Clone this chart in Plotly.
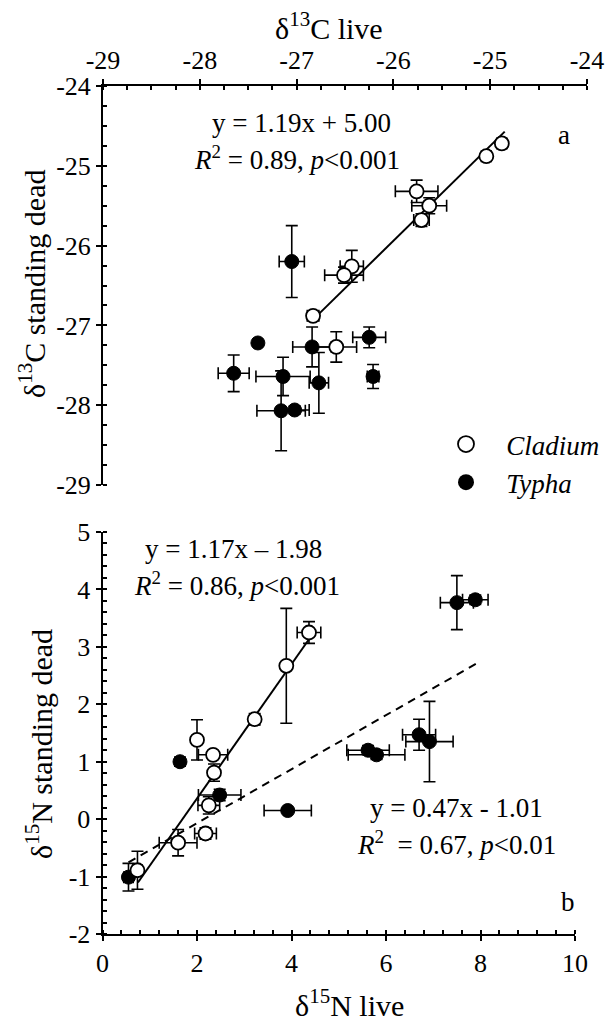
import plotly.graph_objects as go

W, H = 607, 1023

# ---------------- Panel a: d13C ----------------
c13_cladium_live = [-24.88, -25.04, -25.76, -25.63, -25.71, -26.43, -26.51, -26.83, -26.59]
c13_cladium_dead = [-24.72, -24.88, -25.32, -25.50, -25.68, -26.26, -26.37, -26.88, -27.27]
c13_cladium_xerr = [0.05, 0.05, 0.22, 0.18, 0.08, 0.12, 0.20, 0.06, 0.21]
c13_cladium_yerr = [0.05, 0.05, 0.14, 0.10, 0.08, 0.20, 0.10, 0.05, 0.19]

c13_typha_live = [-27.05, -27.40, -26.84, -26.25, -27.65, -27.14, -26.77, -26.21, -27.16, -27.02]
c13_typha_dead = [-26.20, -27.22, -27.27, -27.15, -27.60, -27.64, -27.72, -27.64, -28.07, -28.06]
c13_typha_xerr = [0.13, 0.00, 0.20, 0.17, 0.16, 0.28, 0.10, 0.06, 0.25, 0.15]
c13_typha_yerr = [0.45, 0.00, 0.25, 0.13, 0.23, 0.24, 0.38, 0.15, 0.50, 0.05]

c13_fit = dict(slope=1.19, intercept=5.00, xmin=-26.83, xmax=-24.85)

c13_ticks = [-29, -28, -27, -26, -25, -24]
c13_ticklabels = ["-29", "-28", "-27", "-26", "-25", "-24"]

# ---------------- Panel b: d15N ----------------
n15_cladium_live = [4.37, 3.89, 3.22, 2.00, 2.34, 2.36, 2.25, 2.18, 1.60, 0.74]
n15_cladium_dead = [3.25, 2.67, 1.74, 1.38, 1.12, 0.81, 0.24, -0.25, -0.41, -0.89]
n15_cladium_xerr = [0.25, 0.05, 0.10, 0.05, 0.31, 0.05, 0.23, 0.23, 0.40, 0.10]
n15_cladium_yerr = [0.19, 1.00, 0.10, 0.35, 0.05, 0.15, 0.15, 0.10, 0.23, 0.33]

n15_typha_live = [0.55, 1.64, 2.48, 3.92, 5.62, 5.80, 6.70, 6.92, 7.50, 7.89]
n15_typha_dead = [-1.01, 1.00, 0.42, 0.15, 1.20, 1.12, 1.47, 1.35, 3.77, 3.82]
n15_typha_xerr = [0.10, 0.05, 0.45, 0.50, 0.45, 0.60, 0.35, 0.50, 0.35, 0.27]
n15_typha_yerr = [0.24, 0.08, 0.10, 0.03, 0.08, 0.08, 0.27, 0.70, 0.47, 0.08]

n15_cladium_fit = dict(slope=1.17, intercept=-1.98, xmin=0.75, xmax=4.40)
n15_typha_fit = dict(slope=0.47, intercept=-1.01, xmin=0.55, xmax=7.90)

n15_xticks = [0, 2, 4, 6, 8, 10]
n15_xticklabels = ["0", "2", "4", "6", "8", "10"]
n15_yticks = [-2, -1, 0, 1, 2, 3, 4, 5]
n15_yticklabels = ["-2", "-1", "0", "1", "2", "3", "4", "5"]

FONT = "Liberation Serif, Times New Roman, serif"


def px_x(p):
    return p / W


def px_y(p):
    return 1 - p / H


fig = go.Figure()


def err(arr):
    return dict(type="data", array=arr, visible=True, color="black", thickness=1.6, width=6)


def fit_line(fit, xa, ya, dash):
    xs = [fit["xmin"], fit["xmax"]]
    ys = [fit["slope"] * v + fit["intercept"] for v in xs]
    return go.Scatter(x=xs, y=ys, mode="lines", xaxis=xa, yaxis=ya,
                      line=dict(color="black", width=2, dash=dash), showlegend=False,
                      hoverinfo="skip")


open_marker = dict(symbol="circle", size=14, color="white", line=dict(color="black", width=1.8))
fill_marker = dict(symbol="circle", size=14, color="black", line=dict(color="black", width=1))

# panel a
fig.add_trace(fit_line(c13_fit, "x", "y", "solid"))
fig.add_trace(go.Scatter(x=c13_typha_live, y=c13_typha_dead, mode="markers", name="<i>Typha</i>",
                         xaxis="x", yaxis="y", marker=fill_marker,
                         error_x=err(c13_typha_xerr), error_y=err(c13_typha_yerr),
                         showlegend=False))
fig.add_trace(go.Scatter(x=c13_cladium_live, y=c13_cladium_dead, mode="markers", name="<i>Cladium</i>",
                         xaxis="x", yaxis="y", marker=open_marker,
                         error_x=err(c13_cladium_xerr), error_y=err(c13_cladium_yerr),
                         showlegend=False))
# panel b
fig.add_trace(fit_line(n15_typha_fit, "x2", "y2", "8px,6px"))
fig.add_trace(fit_line(n15_cladium_fit, "x2", "y2", "solid"))
fig.add_trace(go.Scatter(x=n15_typha_live, y=n15_typha_dead, mode="markers", name="<i>Typha</i>",
                         xaxis="x2", yaxis="y2", marker=fill_marker,
                         error_x=err(n15_typha_xerr), error_y=err(n15_typha_yerr),
                         showlegend=False))
fig.add_trace(go.Scatter(x=n15_cladium_live, y=n15_cladium_dead, mode="markers", name="<i>Cladium</i>",
                         xaxis="x2", yaxis="y2", marker=open_marker,
                         error_x=err(n15_cladium_xerr), error_y=err(n15_cladium_yerr),
                         showlegend=False))

# legend entries
NB = "\u00a0\u00a0\u00a0"
legend_names = [NB + "<i>Cladium</i>", NB + "<i>Typha</i>"]
fig.add_trace(go.Scatter(x=[None], y=[None], mode="markers", name=legend_names[0],
                         marker=dict(symbol="circle", size=20, color="white",
                                     line=dict(color="black", width=1.8))))
fig.add_trace(go.Scatter(x=[None], y=[None], mode="markers", name=legend_names[1],
                         marker=dict(symbol="circle", size=21, color="black")))

tickfont = dict(family=FONT, size=26, color="black")
common = dict(showline=True, linecolor="black", linewidth=2, ticks="outside", ticklen=5,
              tickwidth=2, tickcolor="black", tickfont=tickfont, showgrid=False, zeroline=False,
              fixedrange=True, automargin=False, tickmode="array")

minor_style = dict(ticks="inside", ticklen=4, tickwidth=1.5, tickcolor="black", showgrid=False)

# overlay axes that draw the inner half of the major ticks (crossing ticks)
inner = dict(showline=False, ticks="inside", ticklen=5, tickwidth=2, tickcolor="black",
             showticklabels=False, showgrid=False, zeroline=False, fixedrange=True,
             automargin=False, tickmode="array")

fig.update_layout(
    template="none",
    width=W, height=H, margin=dict(l=0, r=0, t=0, b=0, pad=0, autoexpand=False),
    autosize=False,
    plot_bgcolor="white", paper_bgcolor="white",
    font=dict(family=FONT, size=24, color="black"),
    showlegend=True,
    legend=dict(x=px_x(446), y=px_y(420), xanchor="left", yanchor="top",
                font=dict(family=FONT, size=27), bgcolor="rgba(0,0,0,0)", borderwidth=0,
                itemsizing="trace", tracegroupgap=0),
    xaxis=dict(domain=[px_x(103), px_x(587)], anchor="y", side="top", range=[-29, -24],
               tickvals=c13_ticks, ticktext=c13_ticklabels,
               minor=dict(dtick=0.25, tick0=-29, **minor_style), **common),
    yaxis=dict(domain=[px_y(485), px_y(86)], anchor="x", range=[-29, -24],
               tickvals=c13_ticks, ticktext=c13_ticklabels,
               minor=dict(dtick=0.25, tick0=-29, **minor_style), **common),
    xaxis2=dict(domain=[px_x(102.5), px_x(575)], anchor="y2", range=[0, 10],
                tickvals=n15_xticks, ticktext=n15_xticklabels,
                minor=dict(dtick=0.4, tick0=0, **minor_style), **common),
    yaxis2=dict(domain=[px_y(934), px_y(532)], anchor="x2", range=[-2, 5],
                tickvals=n15_yticks, ticktext=n15_yticklabels,
                minor=dict(dtick=0.2, tick0=-2, **minor_style), **common),
    xaxis3=dict(overlaying="x", anchor="y", side="top", range=[-29, -24], tickvals=c13_ticks, **inner),
    yaxis3=dict(overlaying="y", anchor="x", side="left", range=[-29, -24], tickvals=c13_ticks, **inner),
    xaxis4=dict(overlaying="x2", anchor="y2", side="bottom", range=[0, 10], tickvals=n15_xticks, **inner),
    yaxis4=dict(overlaying="y2", anchor="x2", side="left", range=[-2, 5], tickvals=n15_yticks, **inner),
)

title_font = dict(family=FONT, size=30, color="black")
ann_font = dict(family=FONT, size=27, color="black")


def ann(text, x, y, font, xanchor="center", angle=0):
    return dict(text=text, x=px_x(x), y=px_y(y), xref="paper", yref="paper",
                xanchor=xanchor, yanchor="middle", showarrow=False, font=font, textangle=angle)


annotations = [
    # axis titles
    ann("δ<sup>13</sup>C live", 329, 26, title_font),
    ann("δ<sup>13</sup>C standing dead", 32, 284, title_font, angle=-90),
    ann("δ<sup>15</sup>N standing dead", 39, 744, title_font, angle=-90),
    ann("δ<sup>15</sup>N live", 349, 1003, title_font),
    # panel a
    ann("y = 1.19x + 5.00", 393, 123, ann_font, "right"),
    ann("<i>R</i><sup>2</sup> = 0.89, <i>p</i><0.001", 402, 158, ann_font, "right"),
    ann("a", 564, 135, ann_font),
    # panel b
    ann("y = 1.17x – 1.98", 143, 549, ann_font, "left"),
    ann("<i>R</i><sup>2</sup> = 0.86, <i>p</i><0.001", 132, 584, ann_font, "left"),
    ann("y = 0.47x - 1.01", 545, 808, ann_font, "right"),
    ann("<i>R</i><sup>2</sup>  = 0.67, <i>p</i><0.01", 558, 843, ann_font, "right"),
    ann("b", 568, 902, ann_font),
]
fig.update_layout(annotations=annotations)

fig.write_html("out.html", config={"displayModeBar": False},
               post_script="document.body.style.margin='0px';")
